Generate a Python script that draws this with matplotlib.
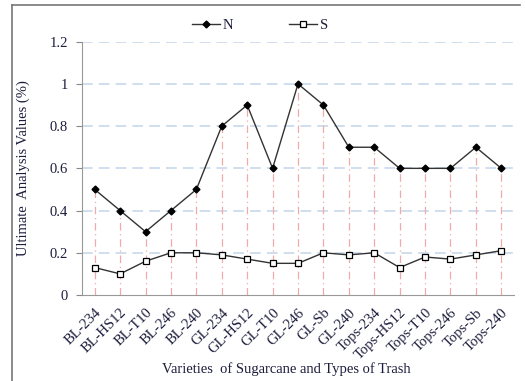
import matplotlib
matplotlib.use("Agg")
import matplotlib.pyplot as plt
from matplotlib.lines import Line2D

categories = ["BL-234", "BL-HS12", "BL-T10", "BL-246", "BL-240", "GL-234", "GL-HS12",
              "GL-T10", "GL-246", "GL-Sb", "GL-240", "Tops-234", "Tops-HS12", "Tops-T10",
              "Tops-246", "Tops-Sb", "Tops-240"]
n_values = [0.5, 0.4, 0.3, 0.4, 0.5, 0.8, 0.9, 0.6, 1.0, 0.9, 0.7, 0.7, 0.6, 0.6, 0.6, 0.7, 0.6]
s_values = [0.13, 0.10, 0.16, 0.20, 0.20, 0.19, 0.17, 0.15, 0.15, 0.20, 0.19, 0.20, 0.13,
            0.18, 0.17, 0.19, 0.21]
y_ticks = [0, 0.2, 0.4, 0.6, 0.8, 1, 1.2]
y_tick_labels = ["0", "0.2", "0.4", "0.6", "0.8", "1", "1.2"]

plt.rcParams['font.family'] = ['Liberation Serif', 'DejaVu Serif']
txt = '#1c1c3c'

fig = plt.figure(figsize=(5.25, 3.81), dpi=100)
W, H = 525, 381
ax = fig.add_axes([82 / W, 1 - 295 / H, (514 - 82) / W, (295 - 41.7) / H])

x = list(range(len(categories)))

for yv in y_ticks[1:]:
    ax.axhline(yv, color='#c3d5ea', lw=1.1, ls=(0, (7, 4)), zorder=1)

ax.vlines(x, 0, n_values, colors='#f2a9a9', lw=0.9, linestyles=(0, (6, 3, 1, 3)), zorder=2)

ax.plot(x, n_values, color='#333333', lw=1.0, marker='D', ms=3.5, mfc='black', mec='black',
        zorder=3, label='N')
ax.plot(x, s_values, color='#333333', lw=1.0, marker='s', ms=5, mfc='white', mec='black',
        mew=0.9, zorder=3, label='S')

ax.set_xlim(-0.5, len(categories) - 0.5)
ax.set_ylim(0, 1.2)
ax.set_yticks(y_ticks)
ax.set_yticklabels(y_tick_labels, fontsize=10.5, color=txt)
ax.set_xticks(x)
ax.set_xticklabels(categories, rotation=45, ha='right', rotation_mode='anchor',
                   fontsize=10.5, color=txt)
ax.tick_params(axis='x', length=0, pad=8)
ax.tick_params(axis='y', length=4, color='#888888', pad=6)
for s in ['top', 'right']:
    ax.spines[s].set_visible(False)
for s in ['left', 'bottom']:
    ax.spines[s].set_color('#999999')

ax.set_ylabel("Ultimate  Analysis Values (%)", fontsize=10.5, color=txt)
ax.yaxis.set_label_coords((30 - 82) / (514 - 82), 0.5)
fig.text(286 / W, 1 - 369 / H, "Varieties  of Sugarcane and Types of Trash", fontsize=10.5,
         color=txt, ha='center', va='center')

leg = ax.legend(loc='center', bbox_to_anchor=(260 / W, 1 - 25 / H), bbox_transform=fig.transFigure,
                ncol=2, frameon=False, fontsize=10.5, handlelength=1.9, columnspacing=3.8,
                handletextpad=0.2)
for t in leg.get_texts():
    t.set_color(txt)

# outer frame
fig.add_artist(Line2D([12 / W, 12 / W], [0, 1 - 5 / H], transform=fig.transFigure,
                      color='#777777', lw=1.2))
fig.add_artist(Line2D([12 / W, 520 / W], [1 - 5 / H, 1 - 5 / H], transform=fig.transFigure,
                      color='#777777', lw=1.2))

fig.savefig("out.png", dpi=100)
